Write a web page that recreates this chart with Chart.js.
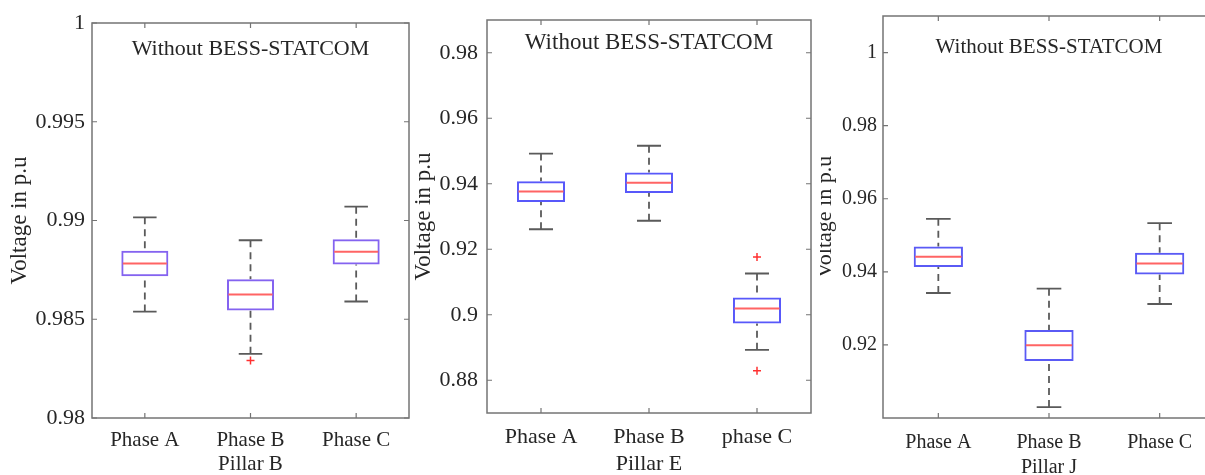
<!DOCTYPE html>
<html>
<head>
<meta charset="utf-8">
<script src="https://cdn.jsdelivr.net/npm/chart.js@4.4.1/dist/chart.umd.min.js"></script>
<style>
  html, body { margin: 0; padding: 0; background: #fff; overflow: hidden; width: 1205px; height: 475px; }
  .panel { position: absolute; top: 0; height: 475px; }
</style>
</head>
<body>
<div class="panel" style="left:0px;width:420px;"><canvas id="c1" width="420" height="475"></canvas></div>
<div class="panel" style="left:410px;width:420px;"><canvas id="c2" width="420" height="475"></canvas></div>
<div class="panel" style="left:820px;width:400px;"><canvas id="c3" width="400" height="475"></canvas></div>
<script>
// ---------- DATA ----------
const titleText = "Without BESS-STATCOM";
const yAxisTitle = "Voltage in p.u";

// Panel 1: Pillar B
const cats1 = ["Phase A", "Phase B", "Phase C"];
const pillar1 = "Pillar B";
const whiskerLow1 = [0.98539, 0.98325, 0.98590];
const q1_1        = [0.98718, 0.98544, 0.98777];
const median1     = [0.98782, 0.98625, 0.98842];
const q3_1        = [0.98847, 0.98703, 0.98905];
const whiskerHigh1= [0.99016, 0.98900, 0.99070];
const outliers1   = [{x: "Phase B", y: 0.98291}];
const yTicks1     = [0.98, 0.985, 0.99, 0.995, 1];
const yTickLabels1= ["0.98", "0.985", "0.99", "0.995", "1"];

// Panel 2: Pillar E
const cats2 = ["Phase A", "Phase B", "phase C"];
const pillar2 = "Pillar E";
const whiskerLow2 = [0.9261, 0.9287, 0.8893];
const q1_2        = [0.9344, 0.9372, 0.8973];
const median2     = [0.9376, 0.9403, 0.9019];
const q3_2        = [0.9408, 0.9434, 0.9053];
const whiskerHigh2= [0.9492, 0.9516, 0.9126];
const outliers2   = [{x: "phase C", y: 0.9176}, {x: "phase C", y: 0.8829}];
const yTicks2     = [0.88, 0.9, 0.92, 0.94, 0.96, 0.98];
const yTickLabels2= ["0.88", "0.9", "0.92", "0.94", "0.96", "0.98"];

// Panel 3: Pillar J
const cats3 = ["Phase A", "Phase B", "Phase C"];
const pillar3 = "Pillar J";
const whiskerLow3 = [0.9342, 0.9030, 0.9312];
const q1_3        = [0.9413, 0.9156, 0.9393];
const median3     = [0.9441, 0.9199, 0.9423];
const q3_3        = [0.9469, 0.9241, 0.9452];
const whiskerHigh3= [0.9545, 0.9354, 0.9533];
const outliers3   = [];
const yTicks3     = [0.92, 0.94, 0.96, 0.98, 1];
const yTickLabels3= ["0.92", "0.94", "0.96", "0.98", "1"];

// ---------- DRAWING ----------
const SERIF = "'Liberation Serif', 'Times New Roman', serif";
const TEXT = "#262626";

const boxPlugin = {
  id: 'boxExtras',
  beforeDatasetsDraw(chart) {
    const o = chart.options.plugins.boxExtras;
    const {ctx} = chart;
    const xs = chart.scales.x, ys = chart.scales.y;
    const meta = chart.getDatasetMeta(0);
    ctx.save();
    ctx.strokeStyle = o.whiskerColor;
    ctx.lineWidth = 1.8;
    for (let i = 0; i < o.lo.length; i++) {
      const bar = meta.data[i];
      const x = xs.getPixelForValue(i);
      const half = bar.width / 2;
      const yq1 = ys.getPixelForValue(o.q1[i]);
      const yq3 = ys.getPixelForValue(o.q3[i]);
      const ylo = ys.getPixelForValue(o.lo[i]);
      const yhi = ys.getPixelForValue(o.hi[i]);
      ctx.setLineDash([7, 5]);
      ctx.beginPath();
      ctx.moveTo(x, yhi); ctx.lineTo(x, yq3);
      ctx.moveTo(x, ylo); ctx.lineTo(x, yq1);
      ctx.stroke();
      ctx.setLineDash([]);
      ctx.beginPath();
      ctx.moveTo(x - half / 2, yhi); ctx.lineTo(x + half / 2, yhi);
      ctx.moveTo(x - half / 2, ylo); ctx.lineTo(x + half / 2, ylo);
      ctx.stroke();
    }
    ctx.restore();
  },
  afterDatasetsDraw(chart) {
    const o = chart.options.plugins.boxExtras;
    const {ctx, chartArea: ca} = chart;
    const xs = chart.scales.x, ys = chart.scales.y;
    const meta = chart.getDatasetMeta(0);
    ctx.save();
    // medians
    ctx.strokeStyle = "#ff6464";
    ctx.lineWidth = 2;
    for (let i = 0; i < o.med.length; i++) {
      const bar = meta.data[i];
      const x = xs.getPixelForValue(i);
      const half = bar.width / 2;
      const y = ys.getPixelForValue(o.med[i]);
      ctx.beginPath();
      ctx.moveTo(x - half + 1.5, y); ctx.lineTo(x + half - 1.5, y);
      ctx.stroke();
    }
    // frame
    ctx.strokeStyle = "#747474";
    ctx.lineWidth = 1.5;
    ctx.strokeRect(ca.left, ca.top, ca.right - ca.left, ca.bottom - ca.top);
    // inward ticks
    ctx.lineWidth = 1.2;
    ctx.beginPath();
    const tl = 5;
    o.yTicks.forEach(v => {
      const y = ys.getPixelForValue(v);
      ctx.moveTo(ca.left, y); ctx.lineTo(ca.left + tl, y);
      ctx.moveTo(ca.right, y); ctx.lineTo(ca.right - tl, y);
    });
    for (let i = 0; i < o.lo.length; i++) {
      const x = xs.getPixelForValue(i);
      ctx.moveTo(x, ca.bottom); ctx.lineTo(x, ca.bottom - tl);
      ctx.moveTo(x, ca.top); ctx.lineTo(x, ca.top + tl);
    }
    ctx.stroke();
    // title inside plot
    ctx.fillStyle = TEXT;
    ctx.font = o.titleSize + "px " + SERIF;
    ctx.textAlign = "center";
    ctx.textBaseline = "middle";
    ctx.fillText(titleText, (ca.left + ca.right) / 2 + o.titleDx, o.titleY);
    ctx.restore();
  }
};

function makePanel(id, cfg) {
  const ctx = document.getElementById(id);
  const boxes = cfg.q1.map((v, i) => [v, cfg.q3[i]]);
  return new Chart(ctx, {
    type: 'bar',
    data: {
      labels: cfg.cats,
      datasets: [
        {
          type: 'bar',
          data: boxes,
          backgroundColor: 'rgba(255,255,255,0)',
          borderColor: cfg.boxColor,
          borderWidth: 2,
          borderSkipped: false,
          categoryPercentage: 1,
          barPercentage: 0.445,
          order: 2
        },
        {
          type: 'line',
          data: cfg.outliers,
          showLine: false,
          pointStyle: 'cross',
          pointRadius: 4,
          pointBorderColor: '#ff3030',
          pointBorderWidth: 1.5,
          order: 1
        }
      ]
    },
    options: {
      responsive: false,
      animation: false,
      layout: { padding: { left: 0, top: cfg.top, right: cfg.padRight, bottom: 0 } },
      plugins: {
        legend: { display: false },
        tooltip: { enabled: false },
        boxExtras: {
          lo: cfg.lo, q1: cfg.q1, med: cfg.med, q3: cfg.q3, hi: cfg.hi,
          yTicks: cfg.yTicks, whiskerColor: '#5a5a5a',
          titleSize: cfg.titleSize, titleY: cfg.titleY, titleDx: cfg.titleDx || 0
        }
      },
      scales: {
        x: {
          type: 'category',
          grid: { display: false, drawTicks: false },
          border: { display: false },
          ticks: { color: TEXT, font: { family: SERIF, size: cfg.xFont }, padding: cfg.xPad, maxRotation: 0 },
          title: { display: true, text: cfg.pillar, color: TEXT, font: { family: SERIF, size: cfg.xFont, lineHeight: 1 }, padding: { top: 0, bottom: cfg.xTitlePad } },
          afterFit: s => { s.height = cfg.xHeight; }
        },
        y: {
          min: cfg.min, max: cfg.max,
          grid: { display: false, drawTicks: false },
          border: { display: false },
          afterBuildTicks: s => { s.ticks = cfg.yTicks.map(v => ({ value: v })); },
          ticks: {
            color: TEXT, font: { family: SERIF, size: cfg.yFont, lineHeight: 1 }, padding: cfg.yPad,
            callback: (v) => cfg.yLabels[cfg.yTicks.findIndex(t => Math.abs(t - v) < 1e-9)]
          },
          title: { display: true, text: yAxisTitle, color: TEXT, font: { family: SERIF, size: cfg.yTitleFont, lineHeight: 1 }, padding: { top: cfg.yTitlePad, bottom: 0 } },
          afterFit: s => { s.width = cfg.yWidth; }
        }
      }
    },
    plugins: [boxPlugin]
  });
}

makePanel('c1', {
  cats: cats1, pillar: pillar1, lo: whiskerLow1, q1: q1_1, med: median1, q3: q3_1, hi: whiskerHigh1,
  outliers: outliers1, yTicks: yTicks1, yLabels: yTickLabels1, min: 0.98, max: 1.0,
  boxColor: '#8463f0', top: 23, padRight: 11, yWidth: 92, xHeight: 57,
  xFont: 21, yFont: 22, yTitleFont: 23, xPad: 10, yPad: 7, xTitlePad: 0, yTitlePad: 8,
  titleSize: 22, titleY: 49, titleDx: 0
});
makePanel('c2', {
  cats: cats2, pillar: pillar2, lo: whiskerLow2, q1: q1_2, med: median2, q3: q3_2, hi: whiskerHigh2,
  outliers: outliers2, yTicks: yTicks2, yLabels: yTickLabels2, min: 0.87, max: 0.99,
  boxColor: '#5858fa', top: 20, padRight: 19, yWidth: 77, xHeight: 62,
  xFont: 22, yFont: 22, yTitleFont: 23, xPad: 11, yPad: 9, xTitlePad: 0, yTitlePad: 2,
  titleSize: 23, titleY: 43, titleDx: 0
});
makePanel('c3', {
  cats: cats3, pillar: pillar3, lo: whiskerLow3, q1: q1_3, med: median3, q3: q3_3, hi: whiskerHigh3,
  outliers: outliers3, yTicks: yTicks3, yLabels: yTickLabels3, min: 0.90, max: 1.01,
  boxColor: '#5a5af5', top: 16, padRight: 5, yWidth: 63, xHeight: 57,
  xFont: 20, yFont: 20, yTitleFont: 22, xPad: 13, yPad: 6, xTitlePad: -3, yTitlePad: -6,
  titleSize: 21, titleY: 47, titleDx: 0
});
</script>
</body>
</html>
